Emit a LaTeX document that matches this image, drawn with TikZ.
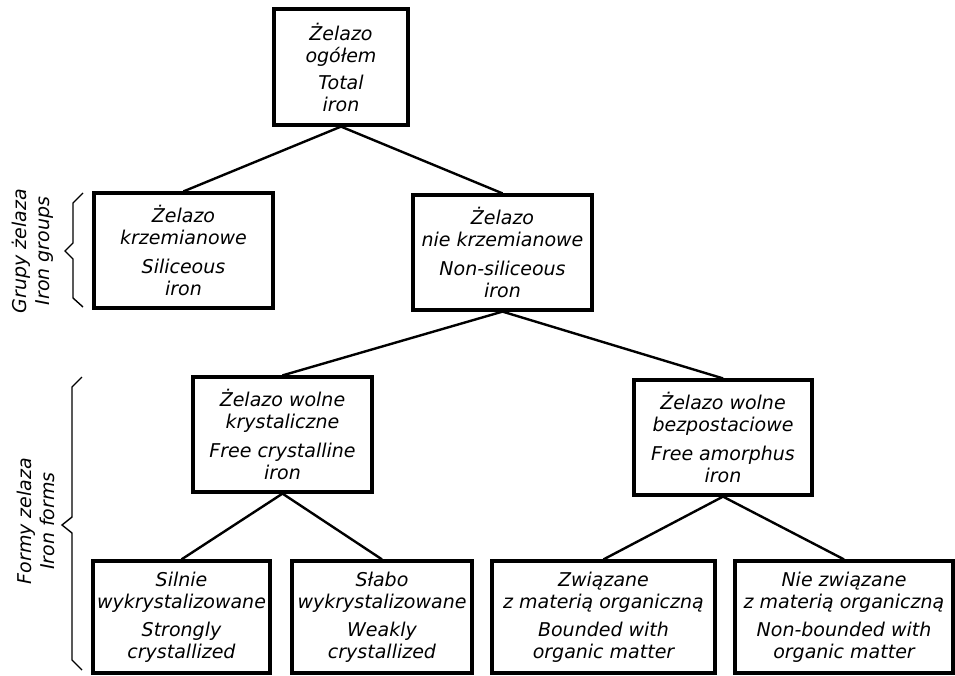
\documentclass[tikz,border=0pt]{standalone}
\usepackage{fontspec}
\setmainfont{DejaVu Sans}
\begin{document}
\begin{tikzpicture}[x=1pt,y=-1pt,
		box/.style={draw,line width=3.2pt,align=center,inner sep=0pt,minimum width=179pt,minimum height=115pt,font=\itshape\fontsize{19}{22}\selectfont},
		side/.style={rotate=90,align=center,inner sep=0pt,font=\itshape\fontsize{19}{23}\selectfont},
		link/.style={line width=2.4pt},
		brace/.style={line width=1.4pt}]
		\useasboundingbox (0,0) rectangle (955,676);
		\node[box,minimum width=134pt,minimum height=116pt] (tot) at (341,67) {Żelazo\\ogółem\\[5pt]Total\\iron};
		\node[box] (sil) at (183.5,250.5) {Żelazo\\krzemianowe\\[7pt]Siliceous\\iron};
		\node[box] (nsil) at (502.5,252.5) {Żelazo\\nie krzemianowe\\[7pt]Non-siliceous\\iron};
		\node[box] (cry) at (282.5,434.5) {Żelazo wolne\\krystaliczne\\[7pt]Free crystalline\\iron};
		\node[box,minimum width=178pt] (amo) at (723,437.5) {Żelazo wolne\\bezpostaciowe\\[7pt]Free amorphus\\iron};
		\node[box,minimum width=177pt,minimum height=112pt] (strong) at (181.5,617) {Silnie\\wykrystalizowane\\[6pt]Strongly\\crystallized};
		\node[box,minimum width=180pt,minimum height=112pt] (weak) at (382,617) {Słabo\\wykrystalizowane\\[6pt]Weakly\\crystallized};
		\node[box,minimum width=223pt,minimum height=112pt] (bound) at (603.5,617) {Związane\\z materią organiczną\\[6pt]Bounded with\\organic matter};
		\node[box,minimum width=218pt,minimum height=112pt] (nbound) at (844,617) {Nie związane\\z materią organiczną\\[6pt]Non-bounded with\\organic matter};
		\draw[link] (tot.south) -- (sil.north);
		\draw[link] (tot.south) -- (nsil.north);
		\draw[link] (nsil.south) -- (cry.north);
		\draw[link] (nsil.south) -- (amo.north);
		\draw[link] (cry.south) -- (strong.north);
		\draw[link] (cry.south) -- (weak.north);
		\draw[link] (amo.south) -- (bound.north);
		\draw[link] (amo.south) -- (nbound.north);
		\draw[brace] (83,193)--(73,203)--(73,243)--(65,251)--(73,259)--(73,298)--(83,307);
		\draw[brace] (82,377)--(72,387)--(72,517)--(62,525)--(72,533)--(72,660)--(82,670);
		\node[side] (grp) at (33,251) {Grupy żelaza\\Iron groups};
		\node[side] (frm) at (36,521) {Formy zelaza\\Iron forms};
		\end{tikzpicture}
\end{document}
